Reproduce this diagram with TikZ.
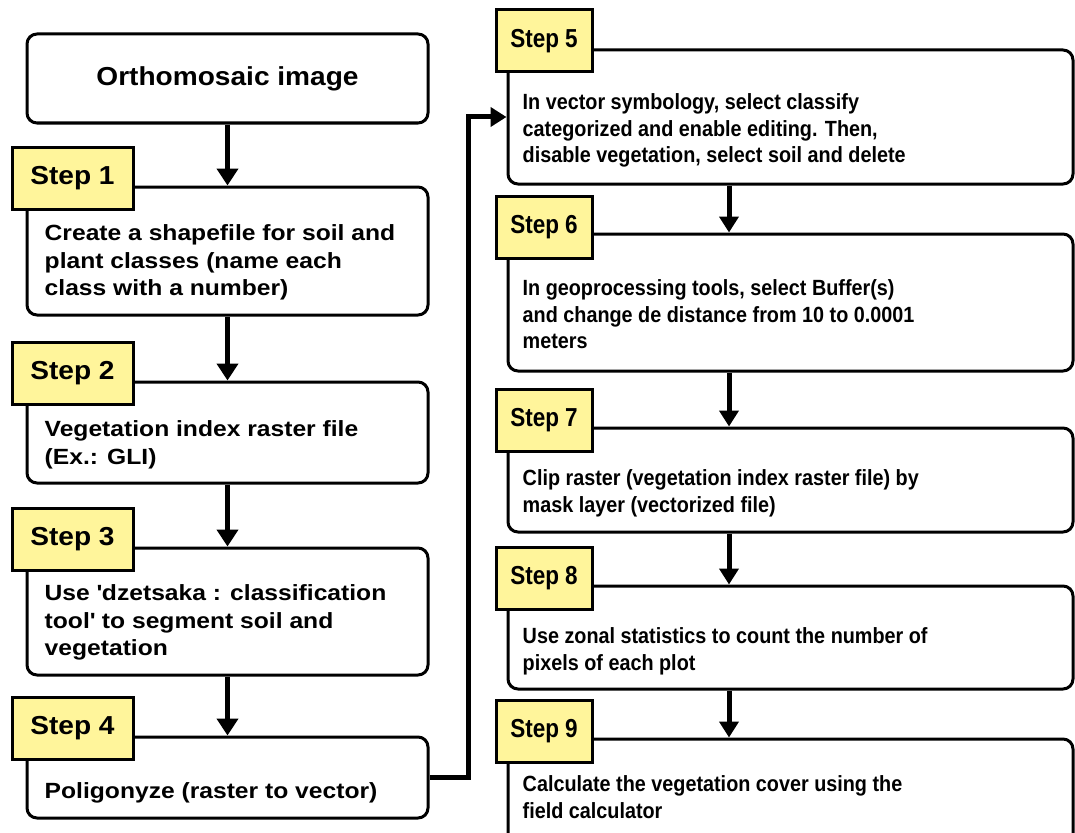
\documentclass[tikz,border=0pt]{standalone}
\usepackage{fontspec}
\setmainfont{Liberation Sans}[FakeStretch=1.08]
\newfontfamily\leftfont{Liberation Sans}[FakeStretch=1.12]
\newfontfamily\narrowfont{Liberation Sans}[FakeStretch=0.9]
\newfontfamily\narrowtagfont{Liberation Sans}[FakeStretch=0.865]
\usetikzlibrary{arrows.meta, positioning}
\definecolor{tagyellow}{RGB}{255,245,155}

\begin{document}
\begin{tikzpicture}[
x=1pt, y=-1pt,
box/.style={rectangle, rounded corners=10pt, draw=black, line width=3pt, minimum width=401pt, inner sep=0pt},
rbox/.style={box, minimum width=565pt},
tag/.style={rectangle, draw=black, line width=3pt, fill=tagyellow, anchor=north west, minimum width=121pt, minimum height=62pt, inner sep=0pt, font=\fontsize{26}{30}\selectfont\bfseries},
rtag/.style={tag, minimum width=96pt, font=\narrowtagfont\fontsize{26}{30}\selectfont\bfseries},
txt/.style={align=left, anchor=north west, inner sep=0pt, font=\leftfont\fontsize{22}{27.5}\selectfont\bfseries},
rtxt/.style={txt, font=\narrowfont\fontsize{22}{26.5}\selectfont\bfseries},
line/.style={-{Triangle[length=17pt, width=21pt]}, line width=5.5pt},
rline/.style={-{Triangle[length=16pt, width=19pt]}, line width=5pt}
]
\useasboundingbox (0,0) rectangle (1075,832);
\clip (0,0) rectangle (1075,832);

% left column
\node[box, minimum height=89pt, font=\fontsize{26}{30}\selectfont\bfseries] (ortho) at (227.5,78.5) {Orthomosaic image};

\node[box, minimum height=128pt] (s1) at (227.5,251) {};
\node[tag] (l1) at ([shift={(-15,-40)}]s1.north west) {Step 1};
\node[txt] (t1) at ([shift={(19,39)}]s1.north west) {Create a shapefile for soil and\\plant classes (name each\\class with a number)};

\node[box, minimum height=101pt] (s2) at (227.5,432.5) {};
\node[tag] (l2) at ([shift={(-15,-40)}]s2.north west) {Step 2};
\node[txt] (t2) at ([shift={(19,40)}]s2.north west) {Vegetation index raster file\\(Ex.: GLI)};

\node[box, minimum height=127pt] (s3) at (227.5,611.5) {};
\node[tag] (l3) at ([shift={(-15,-40)}]s3.north west) {Step 3};
\node[txt] (t3) at ([shift={(19,38)}]s3.north west) {Use \textquotesingle dzetsaka : classification\\tool\textquotesingle{} to segment soil and\\vegetation};

\node[box, minimum height=81pt] (s4) at (227.5,777.5) {};
\node[tag] (l4) at ([shift={(-15,-40)}]s4.north west) {Step 4};
\node[txt] (t4) at ([shift={(19,47)}]s4.north west) {Poligonyze (raster to vector)};

% right column
\node[rbox, minimum height=134pt] (s5) at (790.5,117) {};
\node[rtag] (l5) at ([shift={(-12,-40)}]s5.north west) {Step 5};
\node[rtxt] (t5) at ([shift={(16,45)}]s5.north west) {In vector symbology, select classify\\categorized and enable editing. Then,\\disable vegetation, select soil and delete};

\node[rbox, minimum height=137pt] (s6) at (790.5,302.5) {};
\node[rtag] (l6) at ([shift={(-12,-38)}]s6.north west) {Step 6};
\node[rtxt] (t6) at ([shift={(16,47)}]s6.north west) {In geoprocessing tools, select Buffer(s)\\and change de distance from 10 to 0.0001\\meters};

\node[rbox, minimum height=104pt] (s7) at (790.5,480) {};
\node[rtag] (l7) at ([shift={(-12,-39)}]s7.north west) {Step 7};
\node[rtxt] (t7) at ([shift={(16,43)}]s7.north west) {Clip raster (vegetation index raster file) by\\mask layer (vectorized file)};

\node[rbox, minimum height=103pt] (s8) at (790.5,637.5) {};
\node[rtag] (l8) at ([shift={(-12,-39)}]s8.north west) {Step 8};
\node[rtxt] (t8) at ([shift={(16,43)}]s8.north west) {Use zonal statistics to count the number of\\pixels of each plot};

\node[rbox, minimum height=130pt] (s9) at (790.5,804) {};
\node[rtag] (l9) at ([shift={(-12,-39)}]s9.north west) {Step 9};
\node[rtxt] (t9) at ([shift={(16,38)}]s9.north west) {Calculate the vegetation cover using the\\field calculator};

% connectors
\draw[line] (ortho) -- (s1);
\draw[line] (s1) -- (s2);
\draw[line] (s2) -- (s3);
\draw[line] (s3) -- (s4);
\draw[rline] (s4.east) -- ++(39,0) |- (s5.west);
\foreach \a/\b in {s5/s6, s6/s7, s7/s8, s8/s9}
  \draw[rline] ([xshift=-61.5pt]\a.south) -- ([xshift=-61.5pt]\b.north);
\end{tikzpicture}
\end{document}
